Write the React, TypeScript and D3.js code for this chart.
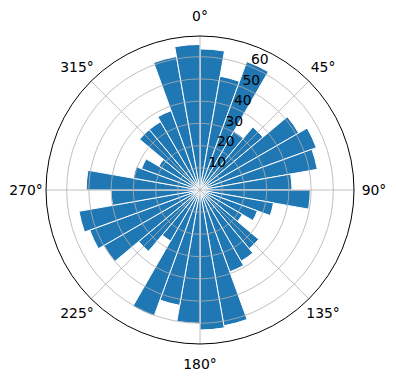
import React from "react";
import * as d3 from "d3";

const values: number[] = [
  63.5, 52, 61.5, 30.5, 37, 51.3, 55.7, 53.6, 41.4,
  49.6, 33.6, 27.5, 22, 34.5, 37, 39.2, 62, 63,
  60, 52.7, 60.4, 26.5, 36, 50, 52.8, 55.3, 40,
  51.2, 30.5, 28, 21.4, 35.5, 35.5, 38, 61, 65.5,
];
const rTicks: number[] = [10, 20, 30, 40, 50, 60];
const thetaTicks: number[] = [0, 45, 90, 135, 180, 225, 270, 315];
const rMax = 69.3;

export default function App() {
  const W = 396, H = 380;
  const cx = 200, cy = 190, R = 154;
  const r = d3.scaleLinear().domain([0, rMax]).range([0, R]);
  const n = values.length;
  const step = (2 * Math.PI) / n;
  const arc = d3.arc<number>()
    .innerRadius(0)
    .outerRadius((d) => r(d))
    .startAngle((_d, i) => i * step)
    .endAngle((_d, i) => (i + 1) * step);
  const font = "DejaVu Sans, sans-serif";
  const fs = 13.9;
  const labR = R + 20;
  const rad = (deg: number) => (deg * Math.PI) / 180;
  const rl = rad(22.5);
  return (
    <svg width={W} height={H} style={{ position: "absolute", left: 0, top: 0, background: "#fff" }}>
      <g transform={`translate(${cx},${cy})`}>
        {values.map((v, i) => (
          <path key={i} d={(arc as any)(v, i)} fill="#1f77b4" stroke="#fff" strokeWidth={1} />
        ))}
        {rTicks.map((t) => (
          <circle key={t} r={r(t)} fill="none" stroke="#b0b0b0" strokeWidth={0.8} />
        ))}
        {thetaTicks.map((t) => (
          <line key={t} x1={0} y1={0} x2={R * Math.sin(rad(t))} y2={-R * Math.cos(rad(t))}
            stroke="#b0b0b0" strokeWidth={0.8} />
        ))}
        <circle r={R} fill="none" stroke="#000" strokeWidth={1} />
        {rTicks.map((t) => (
          <text key={t} x={r(t) * Math.sin(rl)} y={-r(t) * Math.cos(rl) - 2.5}
            fontFamily={font} fontSize={fs} textAnchor="start" fill="#000">{t}</text>
        ))}
        {thetaTicks.map((t) => (
          <text key={t} x={labR * Math.sin(rad(t))} y={-labR * Math.cos(rad(t))}
            fontFamily={font} fontSize={fs} textAnchor="middle" dominantBaseline="central" fill="#000">{`${t}°`}</text>
        ))}
      </g>
    </svg>
  );
}
